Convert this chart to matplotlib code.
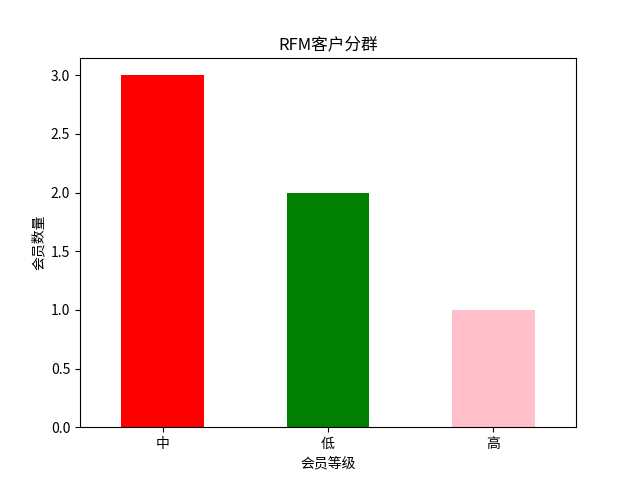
import matplotlib
matplotlib.use("Agg")
import matplotlib.pyplot as plt
import pandas as pd

plt.rcParams['font.family'] = ['Noto Sans CJK SC', 'DejaVu Sans']
plt.rcParams['axes.unicode_minus'] = False

levels = ['中', '低', '高']
counts = [3, 2, 1]
colors = ['red', 'green', 'pink']

s = pd.Series(counts, index=levels)

fig, ax = plt.subplots(figsize=(6.4, 4.8), dpi=100)
s.plot(kind='bar', color=colors, ax=ax, rot=0)
ax.set_title('RFM客户分群')
ax.set_xlabel('会员等级')
ax.set_ylabel('会员数量')

fig.savefig('out.png')
plt.close(fig)
